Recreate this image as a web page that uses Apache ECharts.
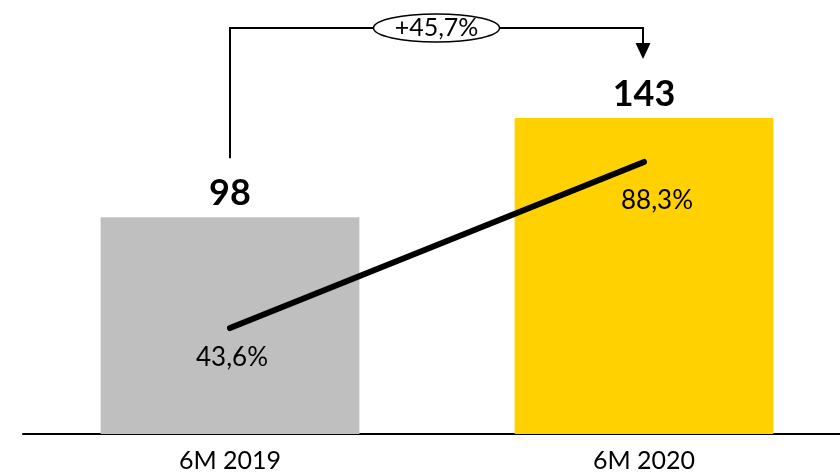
<!DOCTYPE html>
<html>
<head>
<meta charset="utf-8">
<script src="https://cdn.jsdelivr.net/npm/echarts@6/dist/echarts.min.js"></script>
<style>html,body{margin:0;padding:0;background:#fff;}#c{width:840px;height:475px;}</style>
</head>
<body>
<div id="c"></div>
<script>
const categories = ['6M 2019', '6M 2020'];
const barValues = [98, 143];
const barColors = ['#BFBFBF', '#FFD100'];
const ratioValues = [43.6, 88.3];
const growthLabel = '+45,7%';

const FONT = 'Lato, "Liberation Sans", sans-serif';
const chart = echarts.init(document.getElementById('c'), null, {renderer: 'canvas'});

const fmtPct = v => v.toFixed(1).replace('.', ',') + '%';

chart.setOption({
  animation: false,
  backgroundColor: '#fff',
  grid: {left: 23, width: 828, top: 14, bottom: 41, containLabel: false, outerBoundsMode: 'none'},
  xAxis: {
    type: 'category',
    data: categories,
    axisLine: {show: true, lineStyle: {color: '#000', width: 2}},
    axisTick: {show: false},
    axisLabel: {color: '#000', fontSize: 25, fontFamily: FONT, fontWeight: 'normal', margin: 14}
  },
  yAxis: [
    {type: 'value', min: 0, max: 190, show: false, splitLine: {show: false}},
    {type: 'value', min: 15.1, max: 128.1, show: false, splitLine: {show: false}}
  ],
  series: [
    {
      type: 'bar',
      barWidth: '62.5%',
      data: barValues.map((v, i) => ({value: v, itemStyle: {color: barColors[i]}})),
      label: {
        show: true, position: 'top', distance: 6,
        color: '#000', fontSize: 36, fontWeight: 'bold', fontFamily: FONT
      },
      z: 1
    },
    {
      type: 'line',
      yAxisIndex: 1,
      data: ratioValues.map((v, i) => ({
        value: v,
        label: {offset: i === 0 ? [2, 30] : [13, 39]}
      })),
      symbol: 'circle',
      symbolSize: 0.1,
      showSymbol: true,
      lineStyle: {color: '#000', width: 6, cap: 'round'},
      itemStyle: {color: '#000'},
      label: {
        show: true, position: 'inside',
        color: '#000', fontSize: 26, fontWeight: 'normal', fontFamily: FONT,
        formatter: p => fmtPct(p.value)
      },
      z: 3
    }
  ]
});

const p0 = chart.convertToPixel({seriesIndex: 0}, [0, barValues[0]]);
const p1 = chart.convertToPixel({seriesIndex: 0}, [1, barValues[1]]);
const gap = 59, topY = 28, arrowLen = 16, arrowHalf = 7.5;
const x0 = p0[0], x1 = p1[0] - 1;
const midX = (x0 + x1) / 2;

chart.setOption({
  graphic: [
    {
      type: 'polyline', z: 10,
      shape: {points: [[x0, p0[1] - gap], [x0, topY], [x1, topY], [x1, p1[1] - gap - arrowLen]]},
      style: {stroke: '#000', lineWidth: 2, fill: null}
    },
    {
      type: 'polygon', z: 10,
      shape: {points: [[x1 - arrowHalf, p1[1] - gap - arrowLen], [x1 + arrowHalf, p1[1] - gap - arrowLen], [x1, p1[1] - gap]]},
      style: {fill: '#000'}
    },
    {
      type: 'ellipse', z: 11,
      shape: {cx: midX, cy: topY, rx: 63, ry: 14},
      style: {fill: '#fff', stroke: '#000', lineWidth: 1.5}
    },
    {
      type: 'text', z: 12,
      x: midX, y: topY,
      style: {text: growthLabel, fill: '#000', fontSize: 25, fontWeight: 'normal', fontFamily: FONT, align: 'center', verticalAlign: 'middle'}
    }
  ]
});
</script>
</body>
</html>
